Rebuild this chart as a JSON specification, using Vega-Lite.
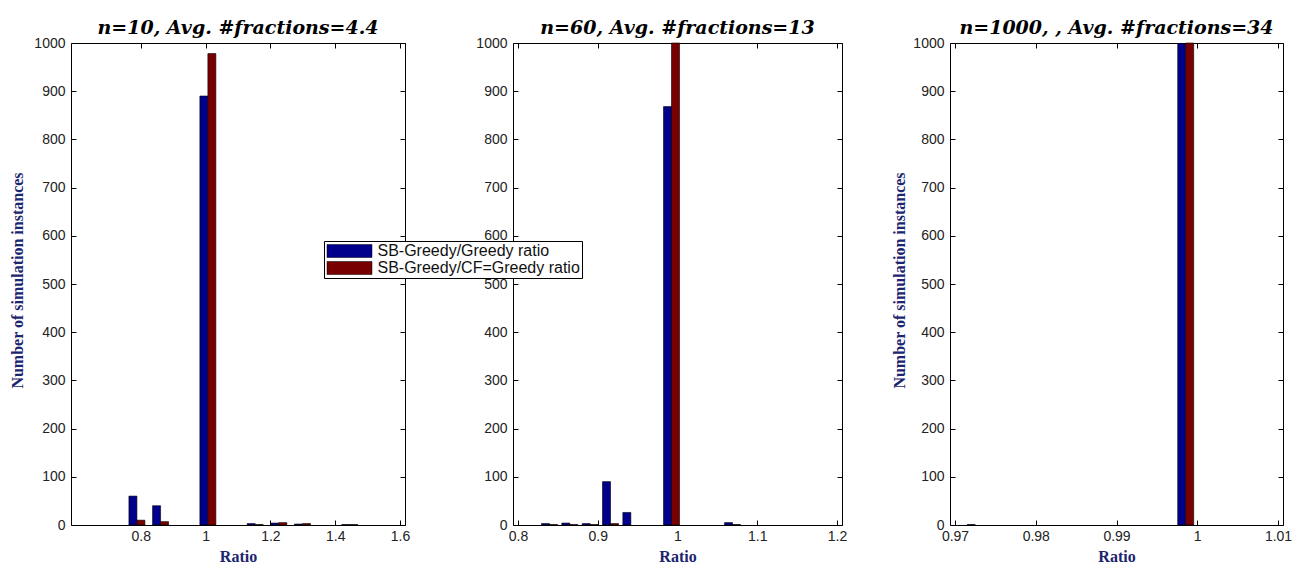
{
  "$schema": "https://vega.github.io/schema/vega-lite/v6.json",
  "background": "white",
  "padding": {"left": 8, "top": 18, "right": 5, "bottom": 0},
  "bounds": "flush",
  "spacing": 108,
  "datasets": {
    "d": [
      {"panel": 1, "ratio": 0.788, "series": "SB-Greedy/Greedy ratio", "count": 60},
      {"panel": 1, "ratio": 0.788, "series": "SB-Greedy/CF=Greedy ratio", "count": 10},
      {"panel": 1, "ratio": 0.861, "series": "SB-Greedy/Greedy ratio", "count": 40},
      {"panel": 1, "ratio": 0.861, "series": "SB-Greedy/CF=Greedy ratio", "count": 7},
      {"panel": 1, "ratio": 1.007, "series": "SB-Greedy/Greedy ratio", "count": 890},
      {"panel": 1, "ratio": 1.007, "series": "SB-Greedy/CF=Greedy ratio", "count": 978},
      {"panel": 1, "ratio": 1.153, "series": "SB-Greedy/Greedy ratio", "count": 3},
      {"panel": 1, "ratio": 1.153, "series": "SB-Greedy/CF=Greedy ratio", "count": 1},
      {"panel": 1, "ratio": 1.226, "series": "SB-Greedy/Greedy ratio", "count": 4},
      {"panel": 1, "ratio": 1.226, "series": "SB-Greedy/CF=Greedy ratio", "count": 5},
      {"panel": 1, "ratio": 1.299, "series": "SB-Greedy/Greedy ratio", "count": 2},
      {"panel": 1, "ratio": 1.299, "series": "SB-Greedy/CF=Greedy ratio", "count": 3},
      {"panel": 1, "ratio": 1.445, "series": "SB-Greedy/Greedy ratio", "count": 1},
      {"panel": 1, "ratio": 1.445, "series": "SB-Greedy/CF=Greedy ratio", "count": 1},
      {"panel": 2, "ratio": 0.8395, "series": "SB-Greedy/Greedy ratio", "count": 3},
      {"panel": 2, "ratio": 0.8395, "series": "SB-Greedy/CF=Greedy ratio", "count": 1},
      {"panel": 2, "ratio": 0.865, "series": "SB-Greedy/Greedy ratio", "count": 4},
      {"panel": 2, "ratio": 0.865, "series": "SB-Greedy/CF=Greedy ratio", "count": 1},
      {"panel": 2, "ratio": 0.8905, "series": "SB-Greedy/Greedy ratio", "count": 3},
      {"panel": 2, "ratio": 0.8905, "series": "SB-Greedy/CF=Greedy ratio", "count": 1},
      {"panel": 2, "ratio": 0.916, "series": "SB-Greedy/Greedy ratio", "count": 90},
      {"panel": 2, "ratio": 0.916, "series": "SB-Greedy/CF=Greedy ratio", "count": 3},
      {"panel": 2, "ratio": 0.9415, "series": "SB-Greedy/Greedy ratio", "count": 26},
      {"panel": 2, "ratio": 0.9925, "series": "SB-Greedy/Greedy ratio", "count": 868},
      {"panel": 2, "ratio": 0.9925, "series": "SB-Greedy/CF=Greedy ratio", "count": 1000},
      {"panel": 2, "ratio": 1.069, "series": "SB-Greedy/Greedy ratio", "count": 5},
      {"panel": 2, "ratio": 1.069, "series": "SB-Greedy/CF=Greedy ratio", "count": 1},
      {"panel": 3, "ratio": 0.9725, "series": "SB-Greedy/Greedy ratio", "count": 1},
      {"panel": 3, "ratio": 0.99857, "series": "SB-Greedy/Greedy ratio", "count": 999},
      {"panel": 3, "ratio": 0.99857, "series": "SB-Greedy/CF=Greedy ratio", "count": 1000}
    ]
  },
  "config": {
    "view": {"stroke": "#000", "strokeWidth": 1},
    "axis": {
      "domain": false, "grid": false, "tickSize": -5, "tickColor": "#000", "tickWidth": 1,
      "labelFont": "Liberation Sans", "labelFontSize": 14, "labelColor": "#222",
      "labelPadding": 11, "labelFlush": false, "labelOverlap": false,
      "titleFont": "Liberation Serif", "titleFontSize": 16, "titleFontWeight": "bold", "titleColor": "#1c2570"
    },
    "axisBottom": {"labelPadding": 9, "format": "~g"},
    "axisLeft": {"format": "d"},
    "title": {"font": "DejaVu Serif", "fontSize": 19, "fontStyle": "italic", "fontWeight": "bold", "color": "#000", "offset": -2, "baseline": "alphabetic"}
  },
  "hconcat": [
    {
      "width": 334, "height": 482,
      "title": "n=10, Avg. #fractions=4.4",
      "data": {"name": "d"},
      "transform": [{"filter": "datum.panel == 1"}],
      "resolve": {"axis": {"x": "independent", "y": "independent"}},
      "layer": [
        {
          "transform": [{"filter": "datum.series == 'SB-Greedy/Greedy ratio'"}],
          "mark": {"type": "bar", "size": 8, "xOffset": -4, "stroke": "#000", "strokeWidth": 0.6},
          "encoding": {
            "x": {"field": "ratio", "type": "quantitative", "scale": {"domain": [0.6, 1.6]},
                  "axis": {"orient": "bottom", "values": [0.8, 1, 1.2, 1.4, 1.6], "title": "Ratio", "titleY": 31, "titleBaseline": "middle"}},
            "y": {"field": "count", "type": "quantitative", "scale": {"domain": [0, 1000]},
                  "axis": {"orient": "left", "values": [0, 100, 200, 300, 400, 500, 600, 700, 800, 900, 1000], "title": "Number of simulation instances", "titleX": -54, "titleY": 237, "titleAngle": -90, "titleAlign": "center", "titleBaseline": "middle"}},
            "color": {"field": "series", "type": "nominal", "title": null,
                      "scale": {"domain": ["SB-Greedy/Greedy ratio", "SB-Greedy/CF=Greedy ratio"], "range": ["#00008c", "#780000"]},
                      "legend": {"orient": "none", "legendX": 253, "legendY": 198, "fillColor": "#fff", "strokeColor": "#000", "padding": 2, "labelFont": "Liberation Sans", "labelFontSize": 16, "labelColor": "#111", "labelLimit": 0, "symbolType": "M-3.214,-0.93H3.214V0.93H-3.214Z", "symbolSize": 196, "symbolOffset": 15.5, "symbolStrokeColor": "#000", "symbolStrokeWidth": 0.5, "symbolOpacity": 1, "rowPadding": 1, "labelOffset": 20}}
          }
        },
        {
          "transform": [{"filter": "datum.series == 'SB-Greedy/CF=Greedy ratio'"}],
          "mark": {"type": "bar", "size": 8, "xOffset": 4, "stroke": "#000", "strokeWidth": 0.6},
          "encoding": {
            "x": {"field": "ratio", "type": "quantitative", "scale": {"domain": [0.6, 1.6]},
                  "axis": {"orient": "top", "values": [0.8, 1, 1.2, 1.4, 1.6], "labels": false, "title": null}},
            "y": {"field": "count", "type": "quantitative", "scale": {"domain": [0, 1000]},
                  "axis": {"orient": "right", "values": [0, 100, 200, 300, 400, 500, 600, 700, 800, 900, 1000], "labels": false, "title": null}},
            "color": {"field": "series", "type": "nominal", "title": null,
                      "scale": {"domain": ["SB-Greedy/Greedy ratio", "SB-Greedy/CF=Greedy ratio"], "range": ["#00008c", "#780000"]},
                      "legend": {"orient": "none", "legendX": 253, "legendY": 198, "fillColor": "#fff", "strokeColor": "#000", "padding": 2, "labelFont": "Liberation Sans", "labelFontSize": 16, "labelColor": "#111", "labelLimit": 0, "symbolType": "M-3.214,-0.93H3.214V0.93H-3.214Z", "symbolSize": 196, "symbolOffset": 15.5, "symbolStrokeColor": "#000", "symbolStrokeWidth": 0.5, "symbolOpacity": 1, "rowPadding": 1, "labelOffset": 20}}
          }
        }
      ]
    },
    {
      "width": 329, "height": 482,
      "title": "n=60, Avg. #fractions=13",
      "data": {"name": "d"},
      "transform": [{"filter": "datum.panel == 2"}],
      "resolve": {"axis": {"x": "independent", "y": "independent"}},
      "layer": [
        {
          "transform": [{"filter": "datum.series == 'SB-Greedy/Greedy ratio'"}],
          "mark": {"type": "bar", "size": 8, "xOffset": -4, "stroke": "#000", "strokeWidth": 0.6},
          "encoding": {
            "x": {"field": "ratio", "type": "quantitative", "scale": {"domain": [0.8, 1.2]},
                  "axis": {"orient": "bottom", "values": [0.8, 0.9, 1, 1.1, 1.2], "title": "Ratio", "titleY": 31, "titleBaseline": "middle"}},
            "y": {"field": "count", "type": "quantitative", "scale": {"domain": [0, 1000]},
                  "axis": {"orient": "left", "values": [0, 100, 200, 300, 400, 500, 600, 700, 800, 900, 1000], "title": null}},
            "color": {"field": "series", "type": "nominal", "title": null,
                      "scale": {"domain": ["SB-Greedy/Greedy ratio", "SB-Greedy/CF=Greedy ratio"], "range": ["#00008c", "#780000"]},
                      "legend": {"orient": "none", "legendX": 253, "legendY": 198, "fillColor": "#fff", "strokeColor": "#000", "padding": 2, "labelFont": "Liberation Sans", "labelFontSize": 16, "labelColor": "#111", "labelLimit": 0, "symbolType": "M-3.214,-0.93H3.214V0.93H-3.214Z", "symbolSize": 196, "symbolOffset": 15.5, "symbolStrokeColor": "#000", "symbolStrokeWidth": 0.5, "symbolOpacity": 1, "rowPadding": 1, "labelOffset": 20}}
          }
        },
        {
          "transform": [{"filter": "datum.series == 'SB-Greedy/CF=Greedy ratio'"}],
          "mark": {"type": "bar", "size": 8, "xOffset": 4, "stroke": "#000", "strokeWidth": 0.6},
          "encoding": {
            "x": {"field": "ratio", "type": "quantitative", "scale": {"domain": [0.8, 1.2]},
                  "axis": {"orient": "top", "values": [0.8, 0.9, 1, 1.1, 1.2], "labels": false, "title": null}},
            "y": {"field": "count", "type": "quantitative", "scale": {"domain": [0, 1000]},
                  "axis": {"orient": "right", "values": [0, 100, 200, 300, 400, 500, 600, 700, 800, 900, 1000], "labels": false, "title": null}},
            "color": {"field": "series", "type": "nominal", "title": null,
                      "scale": {"domain": ["SB-Greedy/Greedy ratio", "SB-Greedy/CF=Greedy ratio"], "range": ["#00008c", "#780000"]},
                      "legend": {"orient": "none", "legendX": 253, "legendY": 198, "fillColor": "#fff", "strokeColor": "#000", "padding": 2, "labelFont": "Liberation Sans", "labelFontSize": 16, "labelColor": "#111", "labelLimit": 0, "symbolType": "M-3.214,-0.93H3.214V0.93H-3.214Z", "symbolSize": 196, "symbolOffset": 15.5, "symbolStrokeColor": "#000", "symbolStrokeWidth": 0.5, "symbolOpacity": 1, "rowPadding": 1, "labelOffset": 20}}
          }
        }
      ]
    },
    {
      "width": 333, "height": 482,
      "title": "n=1000, , Avg. #fractions=34",
      "data": {"name": "d"},
      "transform": [{"filter": "datum.panel == 3"}],
      "resolve": {"axis": {"x": "independent", "y": "independent"}},
      "layer": [
        {
          "transform": [{"filter": "datum.series == 'SB-Greedy/Greedy ratio'"}],
          "mark": {"type": "bar", "size": 8, "xOffset": -4, "stroke": "#000", "strokeWidth": 0.6},
          "encoding": {
            "x": {"field": "ratio", "type": "quantitative", "scale": {"domain": [0.97, 1.01]},
                  "axis": {"orient": "bottom", "values": [0.97, 0.98, 0.99, 1, 1.01], "title": "Ratio", "titleY": 31, "titleBaseline": "middle"}},
            "y": {"field": "count", "type": "quantitative", "scale": {"domain": [0, 1000]},
                  "axis": {"orient": "left", "values": [0, 100, 200, 300, 400, 500, 600, 700, 800, 900, 1000], "title": "Number of simulation instances", "titleX": -51, "titleY": 237, "titleAngle": -90, "titleAlign": "center", "titleBaseline": "middle"}},
            "color": {"field": "series", "type": "nominal", "title": null,
                      "scale": {"domain": ["SB-Greedy/Greedy ratio", "SB-Greedy/CF=Greedy ratio"], "range": ["#00008c", "#780000"]},
                      "legend": {"orient": "none", "legendX": 253, "legendY": 198, "fillColor": "#fff", "strokeColor": "#000", "padding": 2, "labelFont": "Liberation Sans", "labelFontSize": 16, "labelColor": "#111", "labelLimit": 0, "symbolType": "M-3.214,-0.93H3.214V0.93H-3.214Z", "symbolSize": 196, "symbolOffset": 15.5, "symbolStrokeColor": "#000", "symbolStrokeWidth": 0.5, "symbolOpacity": 1, "rowPadding": 1, "labelOffset": 20}}
          }
        },
        {
          "transform": [{"filter": "datum.series == 'SB-Greedy/CF=Greedy ratio'"}],
          "mark": {"type": "bar", "size": 8, "xOffset": 4, "stroke": "#000", "strokeWidth": 0.6},
          "encoding": {
            "x": {"field": "ratio", "type": "quantitative", "scale": {"domain": [0.97, 1.01]},
                  "axis": {"orient": "top", "values": [0.97, 0.98, 0.99, 1, 1.01], "labels": false, "title": null}},
            "y": {"field": "count", "type": "quantitative", "scale": {"domain": [0, 1000]},
                  "axis": {"orient": "right", "values": [0, 100, 200, 300, 400, 500, 600, 700, 800, 900, 1000], "labels": false, "title": null}},
            "color": {"field": "series", "type": "nominal", "title": null,
                      "scale": {"domain": ["SB-Greedy/Greedy ratio", "SB-Greedy/CF=Greedy ratio"], "range": ["#00008c", "#780000"]},
                      "legend": {"orient": "none", "legendX": 253, "legendY": 198, "fillColor": "#fff", "strokeColor": "#000", "padding": 2, "labelFont": "Liberation Sans", "labelFontSize": 16, "labelColor": "#111", "labelLimit": 0, "symbolType": "M-3.214,-0.93H3.214V0.93H-3.214Z", "symbolSize": 196, "symbolOffset": 15.5, "symbolStrokeColor": "#000", "symbolStrokeWidth": 0.5, "symbolOpacity": 1, "rowPadding": 1, "labelOffset": 20}}
          }
        }
      ]
    }
  ]
}
